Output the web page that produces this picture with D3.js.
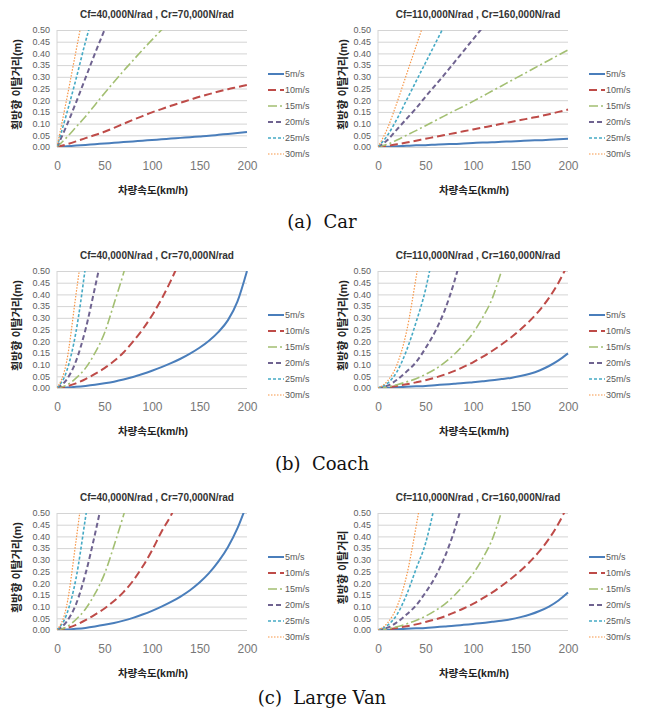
<!DOCTYPE html>
<html><head><meta charset="utf-8">
<script src="https://cdn.jsdelivr.net/npm/d3@7/dist/d3.min.js"></script>
<style>body{margin:0;background:#fff}svg{display:block}</style>
</head><body>
<script>
// ---------- data ----------
const speeds = [0,10,20,30,40,50,60,70,80,90,100,110,120,130,140,150,160,170,180,190,200];
const seriesNames = ["5m/s","10m/s","15m/s","20m/s","25m/s","30m/s"];
const xTicks = [0,50,100,150,200];
const yTicks = [0,0.05,0.10,0.15,0.20,0.25,0.30,0.35,0.40,0.45,0.50];
const panelTitles = ["Cf=40,000N/rad , Cr=70,000N/rad","Cf=110,000N/rad , Cr=160,000N/rad"];
const xTitle = "차량속도(km/h)";
const yTitle = "횡방향 이탈거리(m)";
const yTitleShort = "횡방향 이탈거리";
const captions = ["(a)  Car","(b)  Coach","(c)  Large Van"];

// Car
const carSoft = [
  [0,.003,.006,.009,.012,.015,.018,.021,.024,.027,.030,.033,.036,.039,.042,.045,.048,.052,.056,.060,.064],
  [0,.011,.024,.038,.051,.065,.082,.099,.116,.132,.148,.162,.176,.189,.202,.215,.226,.237,.247,.256,.265],
  [0,.04,.085,.13,.18,.23,.278,.325,.37,.415,.458,.50,.54],
  [0,.09,.19,.295,.40,.50,.60],
  [0,.14,.29,.45,.59],
  [0,.2,.41,.62]
];
const carStiff = [
  [0,.001,.003,.005,.007,.008,.010,.012,.013,.015,.017,.019,.020,.022,.024,.026,.028,.029,.031,.033,.035],
  [0,.005,.012,.019,.027,.035,.043,.051,.059,.067,.075,.083,.091,.099,.107,.115,.123,.131,.140,.150,.160],
  [0,.012,.030,.050,.070,.091,.112,.133,.154,.174,.195,.217,.239,.261,.283,.305,.327,.349,.371,.393,.415],
  [0,.03,.075,.12,.165,.215,.262,.31,.36,.41,.46,.51],
  [0,.05,.12,.2,.28,.36,.44,.52],
  [0,.08,.19,.31,.43,.55]
];
// Coach
const coachSoft = [
  [0,.002,.005,.009,.014,.020,.027,.036,.047,.060,.074,.089,.106,.125,.147,.172,.202,.240,.29,.37,.50],
  [0,.007,.02,.038,.06,.085,.115,.152,.198,.25,.31,.38,.46,.55],
  [0,.012,.042,.085,.15,.235,.36,.49,.64],
  [0,.035,.115,.25,.43,.62],
  [0,.07,.24,.52],
  [0,.11,.40,.70]
];
const coachStiff = [
  [0,.001,.003,.005,.007,.009,.012,.015,.018,.021,.025,.029,.033,.038,.043,.051,.061,.075,.094,.118,.148],
  [0,.003,.009,.016,.024,.033,.044,.057,.072,.09,.11,.133,.158,.186,.216,.25,.288,.332,.385,.45,.53],
  [0,.005,.014,.026,.04,.058,.08,.108,.143,.185,.235,.30,.38,.50,.62],
  [0,.01,.035,.07,.11,.17,.24,.33,.45,.6],
  [0,.02,.07,.16,.28,.42,.62],
  [0,.03,.1,.24,.47,.72]
];
// Large Van
const vanSoft = [
  [0,.002,.005,.009,.015,.022,.030,.040,.052,.066,.082,.100,.120,.143,.170,.203,.243,.293,.355,.435,.54],
  [0,.008,.022,.042,.066,.092,.124,.162,.21,.27,.34,.42,.49,.58],
  [0,.013,.045,.09,.155,.24,.36,.49,.63],
  [0,.035,.11,.24,.41,.60],
  [0,.065,.22,.48,.75],
  [0,.1,.38,.7]
];
const vanStiff = [
  [0,.001,.003,.005,.007,.009,.012,.015,.018,.022,.026,.030,.035,.040,.046,.055,.066,.081,.100,.126,.16],
  [0,.003,.009,.016,.024,.034,.045,.058,.074,.092,.112,.135,.16,.188,.219,.253,.292,.337,.39,.455,.535],
  [0,.005,.014,.026,.041,.059,.082,.11,.146,.19,.24,.305,.385,.505],
  [0,.01,.033,.066,.105,.16,.225,.31,.42,.56],
  [0,.02,.066,.15,.26,.37,.54],
  [0,.03,.1,.23,.44,.68]
];

// ---------- styles ----------
const seriesColors = ["#4a7ebb","#be4b48","#a3bf72","#6f6390","#46aac5","#f79646"];
const seriesDash = ["none","8,4","9,3,2,3","5,3","3,2","1.5,1.5"];
const seriesWidth = [2,2,1.6,2,1.6,1.2];

const W=649,H=721;
const colLeft=[57,378], rowTop=[30,271,513], PW=190, PH=117;
const yTitleX=[-40,-35];
const captionY=[228,470,704];
const sans = "'Liberation Sans','Noto Sans CJK KR',sans-serif";

const panels=[
  {row:0,col:0,data:carSoft,yt:yTitle},
  {row:0,col:1,data:carStiff,yt:yTitle},
  {row:1,col:0,data:coachSoft,yt:yTitle},
  {row:1,col:1,data:coachStiff,yt:yTitle},
  {row:2,col:0,data:vanSoft,yt:yTitle},
  {row:2,col:1,data:vanStiff,yt:yTitleShort}
];

const svg=d3.select("body").append("svg").attr("width",W).attr("height",H)
  .style("font-family",sans);
svg.append("rect").attr("width",W).attr("height",H).attr("fill","#fff");

const x=d3.scaleLinear().domain([0,200]).range([0,PW]);
const y=d3.scaleLinear().domain([0,0.5]).range([PH,0]);
const line=d3.line().x((d,i)=>x(speeds[i])).y(d=>y(d)).curve(d3.curveMonotoneX);

panels.forEach((p,pi)=>{
  const g=svg.append("g").attr("transform",`translate(${colLeft[p.col]},${rowTop[p.row]})`);
  // grid + y axis
  g.append("g").call(d3.axisLeft(y).tickValues(yTicks).tickSize(-PW).tickPadding(7).tickFormat(d3.format(".2f")))
    .call(a=>{
      a.select(".domain").remove();
      a.selectAll(".tick line").attr("stroke","#d4d4d4").attr("stroke-width",1);
      a.selectAll(".tick text").attr("fill","#606060").style("font-size","9px").style("font-family",sans);
    });
  g.append("line").attr("x1",0).attr("x2",0).attr("y1",0).attr("y2",PH).attr("stroke","#d4d4d4");
  // x axis
  g.append("g").attr("transform",`translate(0,${PH})`)
    .call(d3.axisBottom(x).tickValues(xTicks).tickSize(0).tickPadding(14))
    .call(a=>{
      a.select(".domain").remove();
      a.selectAll(".tick text").attr("fill","#777").style("font-size","12px").style("font-family",sans);
    });
  // clip
  const cid="clip"+pi;
  g.append("clipPath").attr("id",cid).append("rect").attr("x",0).attr("y",0).attr("width",PW+1).attr("height",PH);
  const lg=g.append("g").attr("clip-path",`url(#${cid})`);
  p.data.forEach((vals,si)=>{
    lg.append("path").attr("d",line(vals)).attr("fill","none")
      .attr("stroke",seriesColors[si]).attr("stroke-width",seriesWidth[si])
      .attr("stroke-dasharray",seriesDash[si]==="none"?null:seriesDash[si]);
  });
  // legend
  seriesNames.forEach((n,si)=>{
    const ly=44+si*16;
    g.append("line").attr("x1",PW+21).attr("x2",PW+37).attr("y1",ly).attr("y2",ly)
      .attr("stroke",seriesColors[si]).attr("stroke-width",seriesWidth[si])
      .attr("stroke-dasharray",seriesDash[si]==="none"?null:seriesDash[si]);
    g.append("text").attr("x",PW+38).attr("y",ly).attr("dy","0.35em")
      .attr("fill","#595959").style("font-size","9px").text(n);
  });
  // titles
  g.append("text").attr("x",PW/2+5).attr("y",-12).attr("text-anchor","middle")
    .attr("fill","#333").style("font-size","10px").style("font-weight","bold").text(panelTitles[p.col]);
  g.append("text").attr("x",PW/2+1).attr("y",PH+47).attr("text-anchor","middle")
    .attr("fill","#222").style("font-size","10.5px").style("font-weight","bold").text(xTitle);
  g.append("text").attr("transform",`translate(${yTitleX[p.col]},${PH/2-4}) rotate(-90)`)
    .attr("text-anchor","middle").attr("dy","0.35em")
    .attr("fill","#222").style("font-size","11px").style("font-weight","bold").text(p.yt);
});

captions.forEach((c,i)=>{
  svg.append("text").attr("x",322).attr("y",captionY[i]).attr("text-anchor","middle")
    .style("font-family","'DejaVu Serif',serif").style("font-size","18px").attr("fill","#111")
    .attr("xml:space","preserve").style("white-space","pre").text(c);
});
</script>
</body></html>
